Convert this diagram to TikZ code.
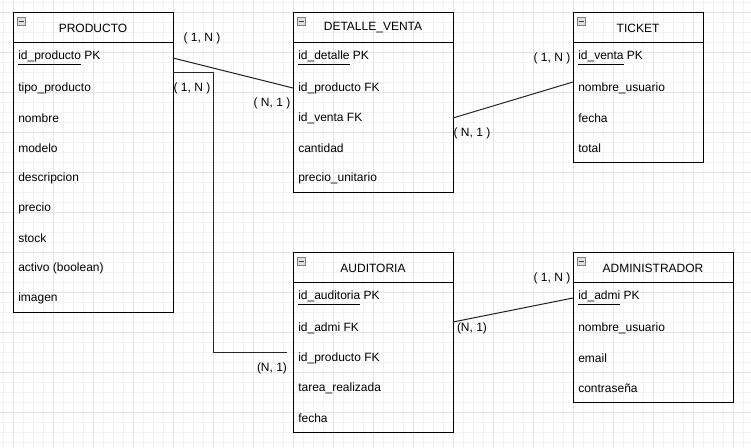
\documentclass[tikz,border=0pt]{standalone}
\usepackage{fontspec}
\setmainfont{Liberation Sans}
\usepackage{tikz}
\usetikzlibrary{positioning,calc}
\begin{document}
\begin{tikzpicture}[x=0.75pt,y=-0.75pt,
	every node/.style={font=\fontsize{9}{11}\selectfont},
	hdr/.style={draw,line width=0.75pt,minimum height=22.5pt,inner sep=0pt,outer sep=0pt},
	tbl/.style={draw,line width=0.75pt,inner sep=0pt,outer sep=0pt},
	fld/.style={anchor=west,inner sep=0pt},
	card/.style={inner sep=0pt},
	rel/.style={line width=0.75pt,black!85},
	minbox/.style={draw=gray,fill=gray!25,minimum size=6pt,inner sep=0pt,
		path picture={\draw[black!75,line width=0.6pt] ([xshift=1.2pt]path picture bounding box.west) -- ([xshift=-1.2pt]path picture bounding box.east);}},
	minorline/.style={gray!10,line width=0.75pt},
	majorline/.style={gray!22,line width=0.75pt}]
\useasboundingbox (0,0) rectangle (751,448);
\fill[white] (0,0) rectangle (751,448);
\foreach \k in {3,13,...,751} {\draw[minorline] (\k,0) -- (\k,448);}
\foreach \k in {3,13,...,448} {\draw[minorline] (0,\k) -- (751,\k);}
\foreach \k in {13,53,...,751} {\draw[majorline] (\k,0) -- (\k,448);}
\foreach \k in {13,53,...,448} {\draw[majorline] (0,\k) -- (751,\k);}

\node[hdr,minimum width=120pt] (prod) at (93,28) {PRODUCTO};
\node[tbl,minimum width=120pt,minimum height=202.5pt,below=0pt of prod] (prodb) {};
\node[minbox] (prodm) at (21.5,21.5) {};
\node[fld] (p1) at (18,58) {\underline{id\_producto} PK};
\node[fld] (p2) at (18,88) {tipo\_producto};
\node[fld] (p3) at (18,118) {nombre};
\node[fld] (p4) at (18,148) {modelo};
\node[fld] (p5) at (18,178) {descripcion};
\node[fld] (p6) at (18,208) {precio};
\node[fld] (p7) at (18,238) {stock};
\node[fld] (p8) at (18,268) {activo (boolean)};
\node[fld] (p9) at (18,298) {imagen};

\node[hdr,minimum width=120pt] (det) at (373,28) {DETALLE\_VENTA};
\node[tbl,minimum width=120pt,minimum height=112.5pt,below=0pt of det] (detb) {};
\node[minbox] (detm) at (301.5,21.5) {};
\node[fld] (d1) at (298,58) {\underline{id\_detalle} PK};
\node[fld] (d2) at (298,88) {id\_producto FK};
\node[fld] (d3) at (298,118) {id\_venta FK};
\node[fld] (d4) at (298,148) {cantidad};
\node[fld] (d5) at (298,178) {precio\_unitario};

\node[hdr,minimum width=97.5pt] (tick) at (638,28) {TICKET};
\node[tbl,minimum width=97.5pt,minimum height=90pt,below=0pt of tick] (tickb) {};
\node[minbox] (tickm) at (581.5,21.5) {};
\node[fld] (t1) at (578,58) {\underline{id\_venta} PK};
\node[fld] (t2) at (578,88) {nombre\_usuario};
\node[fld] (t3) at (578,118) {fecha};
\node[fld] (t4) at (578,148) {total};

\node[hdr,minimum width=120pt] (aud) at (373,268) {AUDITORIA};
\node[tbl,minimum width=120pt,minimum height=112.5pt,below=0pt of aud] (audb) {};
\node[minbox] (audm) at (301.5,261.5) {};
\node[fld] (a1) at (298,298) {\underline{id\_auditoria} PK};
\node[fld] (a2) at (298,328) {id\_admi FK};
\node[fld] (a3) at (298,358) {id\_producto FK};
\node[fld] (a4) at (298,388) {tarea\_realizada};
\node[fld] (a5) at (298,418) {fecha};

\node[hdr,minimum width=120pt] (adm) at (653,268) {ADMINISTRADOR};
\node[tbl,minimum width=120pt,minimum height=90pt,below=0pt of adm] (admb) {};
\node[minbox] (admm) at (581.5,261.5) {};
\node[fld] (m1) at (578,298) {\underline{id\_admi} PK};
\node[fld] (m2) at (578,328) {nombre\_usuario};
\node[fld] (m3) at (578,358) {email};
\node[fld] (m4) at (578,388) {contraseña};

\coordinate (aend) at ($(audb.north west)+(-6,70)$);
\draw[rel] (prodb.east |- p1) -- (detb.west |- d2);
\draw[rel] ($(prodb.north east)+(0,30)$) -- ++(40,0) |- (aend);
\draw[rel] (detb.east |- d3) -- ($(tickb.north west)+(0,39)$);
\draw[rel] ($(audb.north east)+(0,39)$) -- (admb.west |- m1);

\node[card] (c1) at (202,38) {( 1, N )};
\node[card] (c2) at (272,103) {( N, 1 )};
\node[card] (c3) at (192,88) {( 1, N )};
\node[card] (c4) at (272,368) {(N, 1)};
\node[card] (c5) at (552,58) {( 1, N )};
\node[card] (c6) at (472,133) {( N, 1 )};
\node[card] (c7) at (552,278) {( 1, N )};
\node[card] (c8) at (472,328) {(N, 1)};
\end{tikzpicture}
\end{document}
